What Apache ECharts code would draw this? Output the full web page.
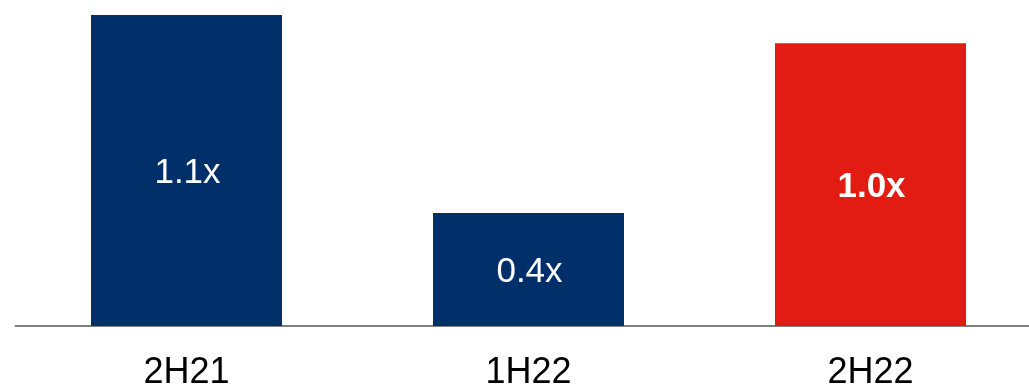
<!DOCTYPE html>
<html>
<head>
<meta charset="utf-8">
<script src="https://cdn.jsdelivr.net/npm/echarts@6/dist/echarts.min.js"></script>
<style>
  html, body { margin: 0; padding: 0; background: #fff; }
  #chart { width: 1029px; height: 388px; }
</style>
</head>
<body>
<div id="chart"></div>
<script>
const categories = ["2H21", "1H22", "2H22"];
const values = [1.1, 0.4, 1.0];
const labels = ["1.1x", "0.4x", "1.0x"];
const highlight = [false, false, true];

const navy = "#002F6A";
const red = "#E31C13";

const chart = echarts.init(document.getElementById("chart"));

const data = values.map((v, i) => ({
  value: v,
  itemStyle: { color: highlight[i] ? red : navy },
  label: {
    formatter: labels[i],
    fontWeight: highlight[i] ? "bold" : "normal",
  },
}));

chart.setOption({
  animation: false,
  grid: {
    top: 15,
    bottom: 62,
    left: 15.5,
    width: 1026,
    outerBoundsMode: "none",
    containLabel: false,
  },
  xAxis: {
    type: "category",
    data: categories,
    axisLine: { lineStyle: { color: "#808080", width: 2 } },
    axisTick: { show: false },
    axisLabel: {
      color: "#000",
      fontFamily: "Liberation Sans, Arial, sans-serif",
      fontSize: 36,
      margin: 29,
    },
  },
  yAxis: {
    type: "value",
    min: 0,
    max: 1.1,
    show: false,
    splitLine: { show: false },
  },
  series: [
    {
      type: "bar",
      data: data,
      barWidth: 191,
      label: {
        show: true,
        position: "inside",
        offset: [1, 3],
        color: "#fff",
        fontFamily: "Liberation Sans, Arial, sans-serif",
        fontSize: 35,
      },
    },
  ],
});
</script>
</body>
</html>
